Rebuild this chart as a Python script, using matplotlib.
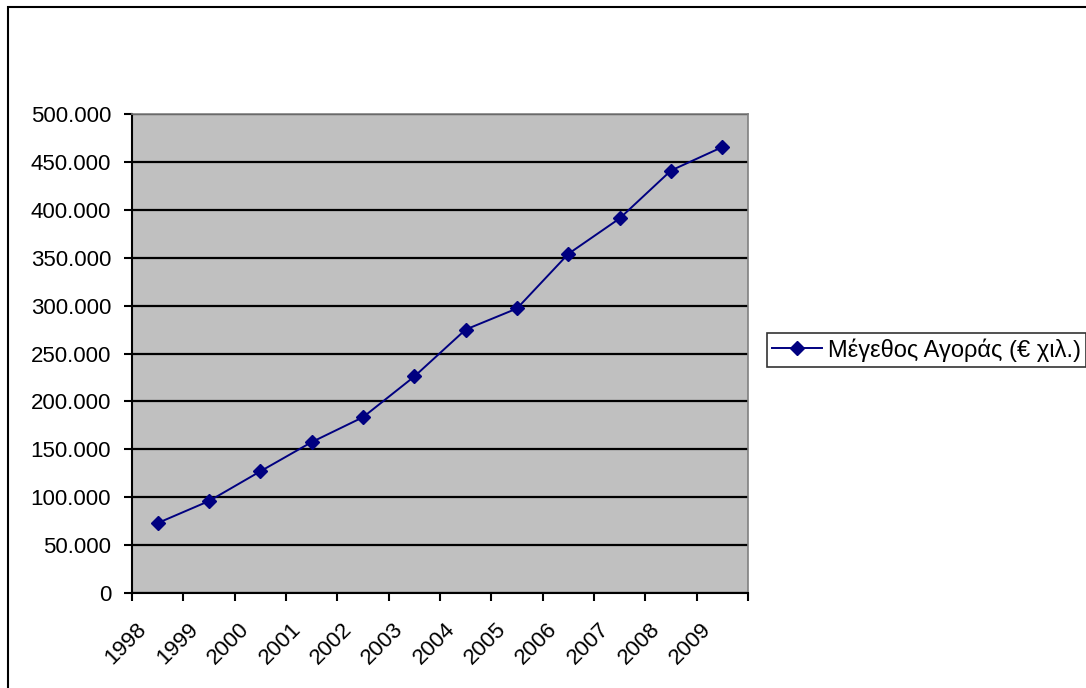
import numpy as np
import matplotlib
matplotlib.use("Agg")
import matplotlib.pyplot as plt
from matplotlib.patches import Rectangle
from matplotlib.transforms import ScaledTranslation
from matplotlib.ticker import FuncFormatter

plt.rcParams['font.family'] = ['Liberation Sans', 'DejaVu Sans']

# Données
annees = ["1998", "1999", "2000", "2001", "2002", "2003",
          "2004", "2005", "2006", "2007", "2008", "2009"]
taille_marche = [73000, 96000, 127000, 157500, 183500, 226000,
                 275000, 297000, 354000, 391000, 441000, 465500]
label_serie = "Μέγεθος Αγοράς (€ χιλ.)"

W, H = 1086, 688
fig = plt.figure(figsize=(W / 100, H / 100), dpi=100)

# cadre extérieur du graphique
fig.patches.append(Rectangle((8 / W, -0.1), 1.2, 1 - 7 / H + 0.1, transform=fig.transFigure,
                             fill=False, edgecolor="black", linewidth=1.5))

ax = fig.add_axes([132 / W, 1 - 593 / H, 616 / W, 479 / H])
ax.set_facecolor("#C0C0C0")

x = np.arange(len(annees))
ax.plot(x, taille_marche, color="#000080", linewidth=1.4, marker="D",
        markersize=7.5, markerfacecolor="#000080", markeredgecolor="#000080",
        label=label_serie, zorder=3)

ax.set_xlim(-0.5, len(annees) - 0.5)
ax.set_ylim(0, 500000)
ax.set_yticks(np.arange(0, 500001, 50000))
ax.yaxis.set_major_formatter(FuncFormatter(lambda v, p: "0" if v == 0 else f"{int(v):,}".replace(",", ".")))
ax.grid(axis="y", color="black", linewidth=1.6, zorder=1)
ax.set_axisbelow(True)

# ticks aux limites des catégories, étiquettes au centre
ax.set_xticks(np.arange(len(annees) + 1) - 0.5)
ax.set_xticklabels([])
ax.set_xticks(x, minor=True)
ax.set_xticklabels(annees, minor=True, rotation=45, ha="right", va="center",
                   rotation_mode="anchor")
ax.tick_params(axis="x", which="minor", length=0, pad=24, labelsize=16)
ax.tick_params(axis="x", which="major", length=5.5, width=1.5, direction="out")
ax.tick_params(axis="y", length=6, width=1.5, direction="out", labelsize=16, pad=9)
for lab in ax.get_xticklabels(minor=True):
    lab.set_transform(lab.get_transform() + ScaledTranslation(-0.14, 0, fig.dpi_scale_trans))

for s in ["left", "bottom"]:
    ax.spines[s].set_color("black")
    ax.spines[s].set_linewidth(1.5)
for s in ["top", "right"]:
    ax.spines[s].set_color("#808080")
    ax.spines[s].set_linewidth(1.2)

leg = fig.legend(loc="upper left", bbox_to_anchor=(767 / W, 1 - 333 / H),
                 frameon=True, fancybox=False, edgecolor="black", fontsize=17,
                 handlelength=2.1, borderaxespad=0, borderpad=0.22,
                 handletextpad=0.25)
leg.get_frame().set_linewidth(1.2)

plt.savefig("out.png", dpi=100)
plt.close()
